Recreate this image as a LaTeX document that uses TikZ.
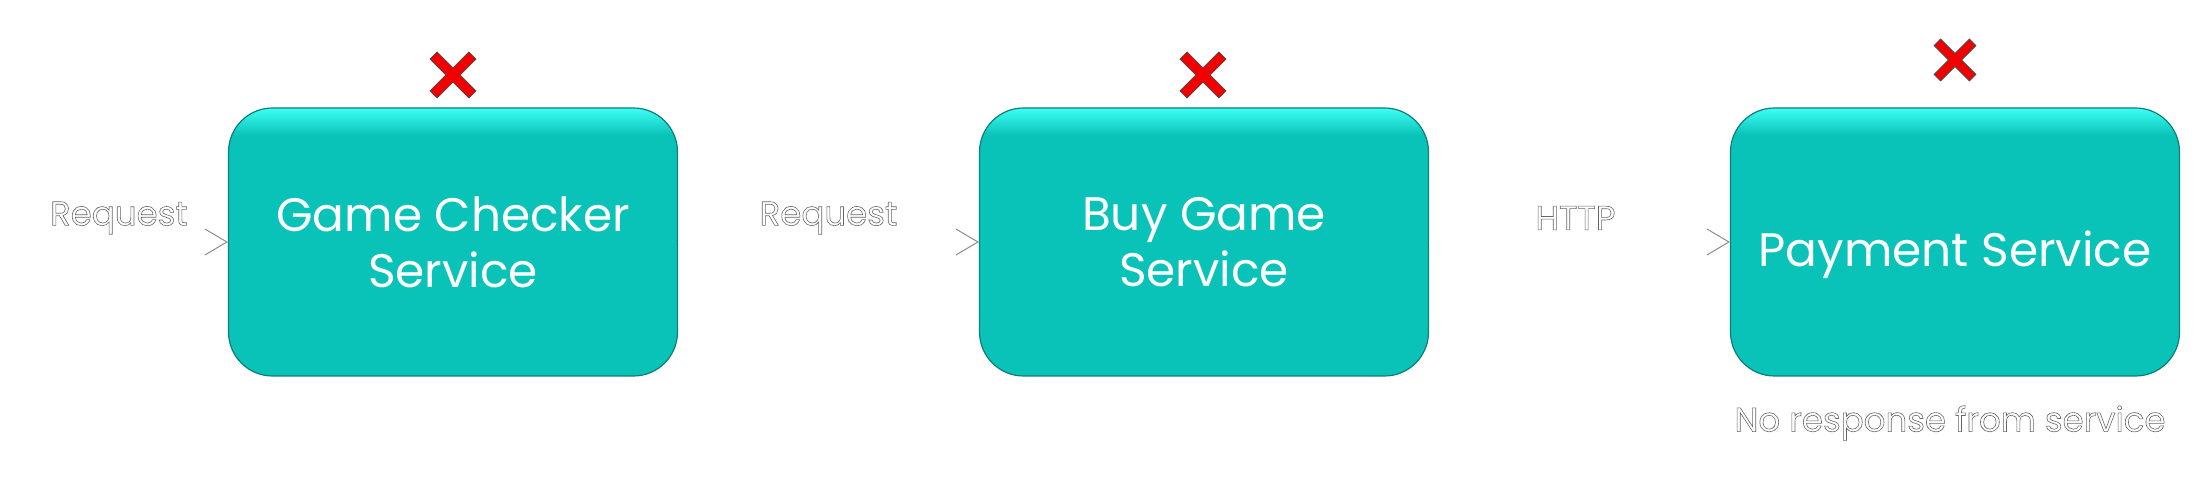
\documentclass[tikz,border=0pt]{standalone}
\usepackage{fontspec}
\setmainfont{Poppins}
\usetikzlibrary{arrows.meta}
\definecolor{boxmain}{HTML}{0AC3B8}
\definecolor{boxtop}{HTML}{3DFFF6}
\definecolor{boxedge}{HTML}{0E7F78}
\definecolor{xred}{HTML}{F20000}
\pgfdeclareverticalshading{boxshade}{100bp}{color(0bp)=(boxmain); color(70bp)=(boxmain); color(75bp)=(boxtop); color(100bp)=(boxtop)}
\newcommand\hollow[1]{\special{pdf:literal direct 1 Tr 0.3 w}#1\special{pdf:literal direct 0 Tr}}
\newcommand\xmark[4]{\filldraw[fill=xred, draw=black!70, line width=0.4pt, shift={(#1,#2)}, rotate=45] (#3pt,#4pt) -- (#4pt,#4pt) -- (#4pt,#3pt) -- (-#4pt,#3pt) -- (-#4pt,#4pt) -- (-#3pt,#4pt) -- (-#3pt,-#4pt) -- (-#4pt,-#4pt) -- (-#4pt,-#3pt) -- (#4pt,-#3pt) -- (#4pt,-#4pt) -- (#3pt,-#4pt) -- cycle;}
\tikzset{
  svc/.style={rounded corners=22pt, minimum width=224.5pt, minimum height=134pt, shading=boxshade, draw=boxedge, line width=0.6pt, text=white, font=\fontsize{23.5}{28}\selectfont, align=center},
  lbl/.style={text=black!60, font=\fontsize{17}{20}\selectfont, inner sep=0pt},
  conn/.style={draw=white, line width=1pt, -{Straight Barb[length=11pt,width=13pt,color=black!45,line width=0.5pt]}}
}
\begin{document}
\begin{tikzpicture}[x=0.5pt, y=-0.5pt]
\useasboundingbox (0,0) rectangle (2200,485);
\node[svc] (gc) at (453,242) {Game Checker\\Service};
\node[svc] (bg) at (1204,242) {Buy Game\\Service};
\node[svc] (ps) at (1955,242) {\raisebox{-12.5pt}[0pt][0pt]{Payment Service}};
\coordinate (start) at (10,242);
\draw[conn] (start) -- node[lbl, midway, yshift=12pt] {\hollow{Request}} (gc.west);
\draw[conn] (gc.east) -- node[lbl, midway, yshift=12pt] {\hollow{Request}} (bg.west);
\draw[conn] (bg.east) -- node[lbl, midway, yshift=12pt, xshift=-2pt] {\hollow{HTTP}} (ps.west);
\node[lbl] (noresp) at (1950,423) {\hollow{No response from service}};
\xmark{453}{75}{13.75}{2.5}
\xmark{1203}{75}{13.75}{2.5}
\xmark{1955}{60}{12.5}{2.3}
\end{tikzpicture}
\end{document}
